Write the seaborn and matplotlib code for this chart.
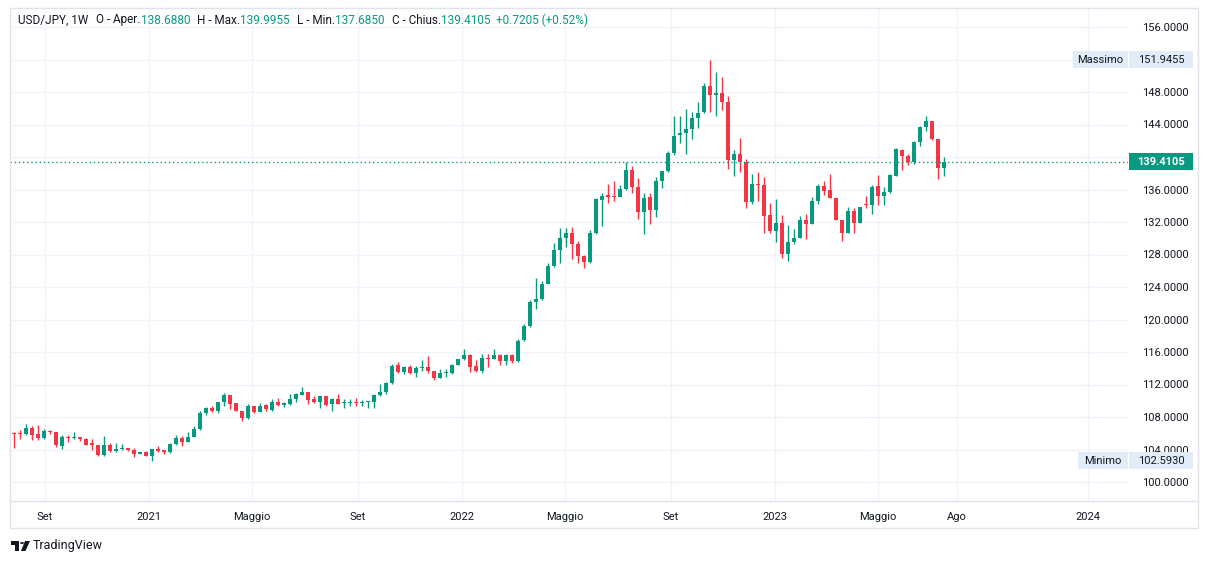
import matplotlib
matplotlib.use('Agg')
import numpy as np
import pandas as pd
import matplotlib.pyplot as plt
import matplotlib.dates as mdates
import matplotlib.transforms as mtransforms
from matplotlib.patches import Rectangle, Polygon, Circle
from matplotlib.lines import Line2D
import seaborn as sns

# ── Data: weekly USD/JPY candles, first week starts 2020-07-20 ─────────────
first_week = '2020-07-20'

opens = [
    107.10, 106.05, 105.95, 105.85, 106.60, 105.90, 105.40, 106.25, 106.10, 104.45,
    105.60, 105.40, 105.60, 105.35, 104.75, 104.55, 103.35, 104.60, 103.85, 104.10,
    104.20, 104.00, 103.40, 103.65, 103.25, 104.05, 103.90, 103.65, 104.70, 105.40,
    104.95, 105.60, 106.50, 108.45, 109.05, 108.80, 109.80, 110.70, 109.70, 108.80,
    107.85, 109.30, 108.60, 109.50, 108.90, 109.85, 109.50, 109.65, 110.20, 110.75,
    111.10, 110.20, 109.85, 110.55, 109.60, 110.25, 109.70, 109.75, 109.85, 109.70,
    109.85, 109.85, 110.75, 111.05, 112.20, 114.40, 113.60, 114.20, 113.40, 114.00,
    114.10, 113.70, 112.85, 113.40, 113.45, 114.35, 115.10, 115.60, 114.30, 113.70,
    115.25, 115.20, 115.60, 114.95, 115.60, 114.85, 117.45, 119.20, 122.20, 122.55,
    124.40, 126.60, 128.50, 130.00, 130.65, 129.35, 127.80, 127.10, 130.60, 134.75,
    135.30, 135.10, 135.05, 136.05, 138.45, 136.30, 133.25, 135.05, 133.45, 137.10,
    138.30, 140.50, 142.65, 142.90, 143.40, 144.75, 145.50, 148.70, 147.65, 147.90,
    146.75, 139.60, 140.35, 139.40, 134.45, 136.70, 136.60, 132.80, 130.90, 131.90,
    128.10, 129.50, 130.05, 132.30, 131.75, 134.60, 136.45, 135.95, 135.00, 132.25,
    130.70, 133.35, 131.85, 134.20, 134.10, 136.40, 135.20, 135.70, 137.70, 140.90,
    140.15, 139.40, 141.85, 143.70, 144.40, 142.20, 138.688,
]
closes = [
    106.00, 105.85, 105.85, 106.60, 105.80, 105.40, 106.25, 106.10, 104.50, 105.60,
    105.40, 105.60, 105.30, 104.60, 104.50, 103.35, 104.60, 103.85, 104.10, 104.20,
    103.95, 103.40, 103.65, 103.25, 104.05, 103.85, 103.65, 104.70, 105.40, 104.95,
    105.60, 106.55, 108.55, 109.05, 108.80, 109.80, 110.70, 109.65, 108.80, 107.85,
    109.30, 108.60, 109.40, 108.95, 109.85, 109.50, 109.70, 110.25, 110.80, 111.10,
    110.10, 109.85, 110.55, 109.50, 110.25, 109.60, 109.80, 109.85, 109.75, 109.90,
    109.90, 110.75, 111.05, 112.20, 114.30, 113.60, 114.20, 113.40, 114.05, 114.10,
    113.70, 112.85, 113.40, 113.45, 114.35, 115.10, 115.60, 114.20, 113.70, 115.25,
    115.20, 115.60, 114.95, 115.60, 114.90, 117.40, 119.20, 122.10, 122.55, 124.35,
    126.60, 128.50, 130.00, 130.60, 129.30, 127.85, 127.10, 130.70, 134.80, 135.20,
    135.10, 135.05, 136.05, 138.45, 136.30, 133.25, 135.00, 133.45, 137.05, 138.25,
    140.50, 142.60, 142.90, 143.40, 144.75, 145.40, 148.70, 147.65, 147.90, 146.75,
    139.60, 140.35, 139.40, 134.45, 136.70, 136.60, 132.80, 130.90, 131.90, 128.05,
    129.50, 130.05, 132.30, 131.75, 134.60, 136.45, 135.85, 134.95, 132.25, 130.70,
    133.35, 131.85, 133.80, 134.10, 136.35, 135.20, 135.70, 137.80, 141.00, 140.10,
    139.40, 141.85, 143.70, 144.40, 142.20, 138.70, 139.4105,
]
highs = [
    107.40, 106.10, 106.40, 107.10, 106.90, 107.00, 106.50, 106.45, 106.20, 105.80,
    105.80, 106.10, 105.60, 105.40, 105.30, 104.60, 105.65, 104.75, 104.75, 104.70,
    104.20, 104.15, 103.65, 103.80, 104.05, 104.40, 104.00, 104.75, 105.75, 105.65,
    106.20, 106.90, 108.75, 109.20, 109.35, 109.85, 110.95, 110.70, 109.70, 108.80,
    109.60, 109.40, 109.75, 109.65, 110.20, 110.30, 109.80, 110.80, 110.95, 111.65,
    111.10, 110.60, 110.60, 110.55, 110.30, 110.80, 110.20, 110.20, 110.30, 110.10,
    110.00, 110.80, 112.10, 112.30, 114.50, 114.75, 114.30, 114.40, 114.30, 115.00,
    115.55, 113.70, 113.85, 113.85, 114.50, 115.20, 116.35, 115.80, 115.00, 115.70,
    115.70, 116.35, 115.80, 115.75, 115.80, 117.55, 119.45, 122.45, 125.10, 124.70,
    127.00, 129.40, 131.25, 131.30, 131.35, 129.70, 128.00, 131.00, 134.90, 135.60,
    136.70, 137.00, 136.60, 139.40, 138.90, 137.40, 135.55, 135.60, 137.50, 138.30,
    140.80, 145.00, 145.00, 145.90, 145.60, 146.80, 149.10, 151.9455, 150.50, 149.80,
    147.50, 140.85, 142.30, 139.80, 137.90, 138.20, 137.50, 134.40, 134.80, 132.90,
    131.60, 131.10, 132.70, 133.00, 135.05, 136.70, 137.10, 137.90, 135.00, 132.30,
    133.80, 133.70, 133.80, 135.20, 136.60, 137.80, 136.30, 137.90, 141.10, 140.95,
    140.35, 142.00, 143.85, 145.10, 144.45, 142.25, 139.9955,
]
lows = [
    105.70, 104.20, 105.30, 105.80, 105.20, 105.20, 105.30, 105.90, 104.30, 104.10,
    104.95, 105.30, 105.00, 104.50, 104.00, 103.20, 103.20, 103.70, 103.70, 103.90,
    103.85, 103.05, 103.40, 103.15, 102.593, 103.70, 103.40, 103.55, 104.60, 104.45,
    104.95, 105.60, 106.40, 108.30, 108.60, 108.50, 109.40, 109.00, 108.70, 107.50,
    107.80, 108.45, 108.60, 108.80, 108.80, 109.35, 109.20, 109.50, 109.80, 110.70,
    109.60, 109.75, 109.10, 109.40, 108.80, 109.55, 109.10, 109.40, 109.40, 109.35,
    109.10, 109.10, 110.60, 110.80, 112.10, 113.40, 113.30, 113.25, 112.90, 113.70,
    113.40, 112.50, 112.85, 112.95, 113.35, 114.35, 115.05, 113.50, 113.50, 113.45,
    114.15, 115.10, 114.45, 114.45, 114.70, 114.80, 117.30, 119.10, 121.30, 122.40,
    124.35, 126.50, 127.00, 128.90, 127.50, 127.00, 126.35, 126.90, 130.50, 131.50,
    134.40, 134.55, 135.05, 136.00, 135.60, 132.35, 130.50, 131.80, 132.60, 136.20,
    138.20, 140.20, 141.70, 140.40, 142.20, 143.60, 145.45, 145.50, 145.10, 145.80,
    138.50, 137.70, 138.10, 133.70, 134.20, 134.60, 130.60, 130.60, 129.50, 127.60,
    127.20, 129.30, 130.05, 129.95, 131.75, 134.20, 135.30, 134.90, 132.20, 129.65,
    130.60, 130.60, 131.85, 133.70, 133.00, 134.10, 134.10, 135.60, 137.70, 138.45,
    139.00, 139.20, 141.40, 143.20, 142.10, 137.25, 137.685,
]

tick_dates  = ['2020-09-01', '2021-01-01', '2021-05-01', '2021-09-01',
               '2022-01-01', '2022-05-01', '2022-09-01', '2023-01-01',
               '2023-05-01', '2023-08-01', '2024-01-01']
tick_labels = ['Set', '2021', 'Maggio', 'Set', '2022', 'Maggio', 'Set',
               '2023', 'Maggio', 'Ago', '2024']
price_ticks = list(range(100, 157, 4))

last_close = 139.4105
max_price  = 151.9455
min_price  = 102.5930

header = [('USD/JPY, 1W', 'txt', 8), ('O - Aper.', 'txt', 0), ('138.6880', 'up', 7),
          ('H - Max.', 'txt', 0), ('139.9955', 'up', 7), ('L - Min.', 'txt', 0),
          ('137.6850', 'up', 7), ('C - Chius.', 'txt', 0), ('139.4105', 'up', 6),
          ('+0.7205 (+0.52%)', 'up', 0)]

# ── Style ───────────────────────────────────────────────────────────────────
UP, DOWN = '#089981', '#F23645'
TXT, GRID, BORDER, TAG = '#131722', '#f0f3fa', '#e0e3eb', '#e1ecf9'
W, H = 1209, 564

sns.set_theme(style='white')
plt.rcParams['font.family'] = ['Roboto', 'DejaVu Sans']


def fx(px):
    return px / W


def fy(py):
    return 1 - py / H


fig = plt.figure(figsize=(W / 100, H / 100), dpi=100)
L, R, T, B = 10, 1128, 8, 501
ax = fig.add_axes([fx(L), fy(B), fx(R) - fx(L), fy(T) - fy(B)])

# ── Candles ─────────────────────────────────────────────────────────────────
df = pd.DataFrame({'open': opens, 'high': highs, 'low': lows, 'close': closes},
                  index=pd.date_range(first_week, periods=len(opens), freq='W-MON'))
x = mdates.date2num(df.index)
colors = np.where(df['close'] >= df['open'], UP, DOWN)
lo = np.minimum(df['open'], df['close'])
body = (df['close'] - df['open']).abs().clip(lower=0.12)

ax.vlines(x, df['low'], df['high'], colors=colors, linewidth=1, zorder=2)
ax.bar(x, body, bottom=lo, width=4.6, color=colors, linewidth=0, zorder=3)

# x scale: 6 px per week, 2020-07-27 candle sits at px 14
x_ref = mdates.date2num(pd.Timestamp('2020-07-27'))
px_day = 6 / 7
ax.set_xlim(x_ref - (14 - L) / px_day, x_ref + (R - 14) / px_day)
# y scale: 100 at px 482, 8.125 px per unit
ax.set_ylim(100 - (B - 482) / 8.125, 100 + (482 - T) / 8.125)

ax.set_xticks(mdates.date2num(pd.to_datetime(tick_dates)))
ax.set_xticklabels(tick_labels)
ax.set_yticks(price_ticks)
# 152 sits fully under the "Massimo" tag, so leave its label empty
ax.set_yticklabels(['' if v == 152 else f'{v:.4f}' for v in price_ticks])
ax.yaxis.tick_right()
ax.tick_params(axis='y', length=0, pad=10, labelsize=8, labelcolor=TXT)
ax.tick_params(axis='x', length=0, pad=8, labelsize=8, labelcolor=TXT)
ax.grid(color=GRID, linewidth=1)
ax.set_axisbelow(True)
sns.despine(ax=ax, left=True, bottom=True, right=True, top=True)

# last price dotted line
ax.axhline(last_close, color=UP, linestyle=(0, (1, 2)), linewidth=1, zorder=4)

# ── Price tags on the right scale ───────────────────────────────────────────
tr = mtransforms.blended_transform_factory(fig.transFigure, ax.transData)
tag_h = 17 / 8.125


def tag(x0, x1, y, text, fc, color, weight='normal'):
    ax.add_patch(Rectangle((fx(x0), y - tag_h / 2), fx(x1) - fx(x0), tag_h,
                           transform=tr, facecolor=fc, edgecolor='none',
                           clip_on=False, zorder=10))
    ax.text(fx((x0 + x1) / 2), y, text, transform=tr, ha='center', va='center',
            fontsize=8, color=color, fontweight=weight, clip_on=False, zorder=11)


tag(1073, 1128, max_price, 'Massimo', TAG, TXT)
tag(1129, 1193, max_price, f'{max_price:.4f}', TAG, TXT)
tag(1078, 1128, min_price, 'Minimo', TAG, TXT)
tag(1129, 1193, min_price, f'{min_price:.4f}', TAG, TXT)
tag(1129, 1193, last_close, f'{last_close:.4f}', UP, 'white', 'bold')

# ── Frame ───────────────────────────────────────────────────────────────────
fig.add_artist(Rectangle((fx(10), fy(528)), fx(1198) - fx(10), fy(8) - fy(528),
                         transform=fig.transFigure, fill=False,
                         edgecolor=BORDER, linewidth=1))
fig.add_artist(Line2D([fx(10), fx(1198)], [fy(501), fy(501)],
                      transform=fig.transFigure, color=BORDER, linewidth=1))

# ── Header legend ───────────────────────────────────────────────────────────
renderer = fig.canvas.get_renderer()
px = 18
for text, col, gap in header:
    t = fig.text(fx(px), fy(20), text, fontsize=8.5, va='center', ha='left',
                 color=UP if col == 'up' else TXT)
    px = t.get_window_extent(renderer=renderer).x1 + gap

# ── TradingView mark ────────────────────────────────────────────────────────
logo = dict(transform=fig.transFigure, facecolor=TXT, edgecolor='none')
fig.add_artist(Rectangle((fx(11), fy(545)), fx(19) - fx(11), fy(541) - fy(545), **logo))
fig.add_artist(Rectangle((fx(15), fy(551)), fx(19) - fx(15), fy(541) - fy(551), **logo))
fig.add_artist(Circle((fx(22), fy(543)), 2 / W, **logo))
fig.add_artist(Polygon([(fx(25), fy(541)), (fx(30), fy(541)), (fx(25.5), fy(551)),
                        (fx(21), fy(551))], **logo))
fig.text(fx(33), fy(546), 'TradingView', fontsize=9, va='center', ha='left', color=TXT)

fig.savefig('out.png', dpi=100, facecolor='white')
